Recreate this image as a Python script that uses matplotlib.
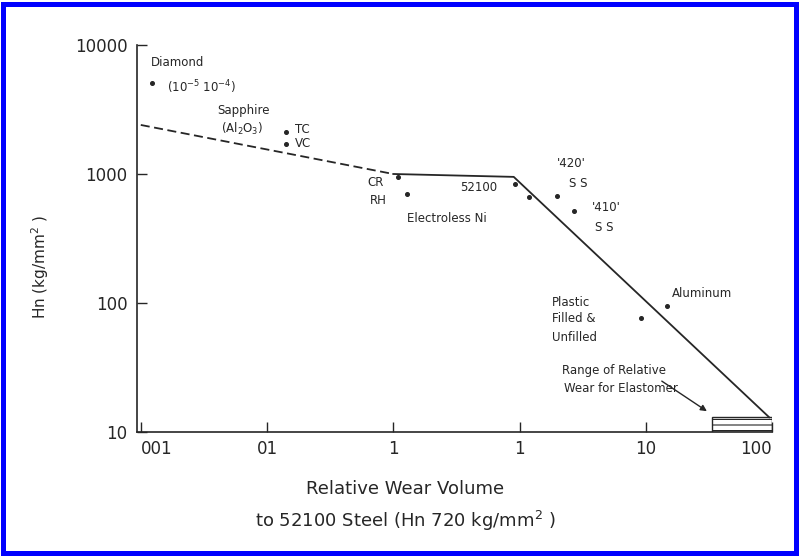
import matplotlib
matplotlib.use("Agg")
import matplotlib.pyplot as plt
from matplotlib.patches import Rectangle

INK = "#262626"

# trend line (dashed upper part, solid lower part)
dash_x = [0.001, 0.1]
dash_y = [2400, 1000]
solid_x = [0.1, 0.9, 95]
solid_y = [1000, 950, 13]

# individual materials
point_names = ["Diamond", "TC", "VC", "CR", "RH", "52100", "Electroless Ni",
               "420 SS", "410 SS", "Plastic", "Aluminum"]
point_x = [0.00122, 0.0141, 0.0141, 0.109, 0.128, 0.92, 1.19, 1.98, 2.7, 9.2, 14.7]
point_y = [5100, 2130, 1720, 955, 705, 843, 668, 680, 521, 76, 94]

# elastomer range box
elastomer_x = [33.5, 100]
elastomer_y = [10, 13.1]

x_ticks = [0.001, 0.01, 0.1, 1, 10, 100]
x_tick_labels = ["001", "01", "1", "1", "10", "100"]
y_ticks = [10, 100, 1000, 10000]
y_tick_labels = ["10", "100", "1000", "10000"]

plt.rcParams["hatch.linewidth"] = 0.8

fig = plt.figure(figsize=(8.0, 5.57), dpi=100)
ax = fig.add_axes([137 / 800, 125 / 557, 635 / 800, 387 / 557])
ax.set_xscale("log")
ax.set_yscale("log")
ax.set_xlim(10 ** -3.03, 100)
ax.set_ylim(10, 10000)

ax.plot(dash_x, dash_y, color=INK, lw=1.3, dashes=(5, 2.5))
ax.plot(solid_x, solid_y, color=INK, lw=1.3)
ax.plot(point_x, point_y, "o", color=INK, ms=2.6, ls="none")

ax.add_patch(Rectangle((elastomer_x[0], elastomer_y[0]),
                       elastomer_x[1] - elastomer_x[0],
                       elastomer_y[1] - elastomer_y[0],
                       facecolor="white", edgecolor=INK, lw=1.0, hatch="---"))

lbl = dict(fontsize=8.5, color=INK, va="center")
ax.text(0.0012, 7280, "Diamond", ha="left", **lbl)
ax.text(0.00161, 4740, "(10$^{-5}$ 10$^{-4}$)", ha="left", **lbl)
ax.text(0.0040, 3090, "Sapphire", ha="left", **lbl)
ax.text(0.0043, 2245, "(Al$_2$O$_3$)", ha="left", **lbl)
ax.text(0.0166, 2200, "TC", ha="left", **lbl)
ax.text(0.0166, 1720, "VC", ha="left", **lbl)
ax.text(0.0843, 857, "CR", ha="right", **lbl)
ax.text(0.089, 622, "RH", ha="right", **lbl)
ax.text(0.477, 785, "52100", ha="center", **lbl)
ax.text(0.128, 452, "Electroless Ni", ha="left", **lbl)
ax.text(1.98, 1202, "'420'", ha="left", **lbl)
ax.text(2.9, 843, "S S", ha="center", **lbl)
ax.text(3.75, 550, "'410'", ha="left", **lbl)
ax.text(4.67, 385, "S S", ha="center", **lbl)
ax.text(1.81, 101, "Plastic", ha="left", **lbl)
ax.text(1.81, 76, "Filled &", ha="left", **lbl)
ax.text(1.81, 54, "Unfilled", ha="left", **lbl)
ax.text(16.1, 119, "Aluminum", ha="left", **lbl)
ax.text(2.17, 30.2, "Range of Relative", ha="left", **lbl)
ax.text(2.25, 21.9, "Wear for Elastomer", ha="left", **lbl)
ax.annotate("", xy=(30.5, 14.5), xytext=(13.4, 24.8),
            arrowprops=dict(arrowstyle="-|>", color=INK, lw=1.0,
                            mutation_scale=9, shrinkA=0, shrinkB=0))

for side in ("top", "right"):
    ax.spines[side].set_visible(False)
for side in ("left", "bottom"):
    ax.spines[side].set_color(INK)
    ax.spines[side].set_linewidth(1.2)

ax.set_xticks(x_ticks)
ax.set_xticklabels(x_tick_labels)
ax.set_yticks(y_ticks)
ax.set_yticklabels(y_tick_labels)
ax.minorticks_off()
ax.tick_params(direction="in", length=7, width=1.0, color=INK,
               labelcolor=INK, labelsize=12)
ax.tick_params(axis="x", pad=6)
ax.tick_params(axis="y", pad=7)
xt = ax.get_xticklabels()
xt[0].set_ha("left")
xt[-1].set_ha("right")

fig.text(40 / 800, 1 - 267 / 557, "Hn (kg/mm$^2$ )", rotation=90,
         ha="center", va="center", fontsize=11, color=INK)
fig.text(405 / 800, 1 - 489 / 557, "Relative Wear Volume",
         ha="center", va="center", fontsize=13, color=INK)
fig.text(405 / 800, 1 - 521 / 557, "to 52100 Steel (Hn 720 kg/mm$^2$ )",
         ha="center", va="center", fontsize=13, color=INK)

fig.patches.append(Rectangle((3 / 800, 4 / 557), 1 - 7 / 800, 1 - 8 / 557,
                             transform=fig.transFigure, fill=False,
                             edgecolor="#0000ff", lw=3.6))

fig.savefig("out.png", dpi=100)
